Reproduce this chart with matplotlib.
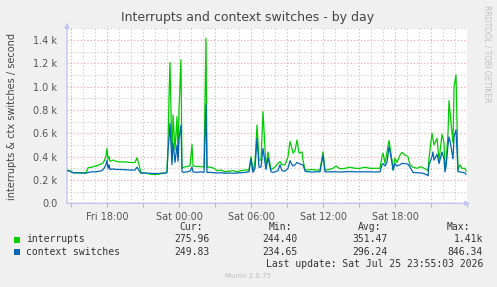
import matplotlib
matplotlib.use("Agg")
import matplotlib.pyplot as plt
import matplotlib.dates as mdates
from matplotlib.ticker import MultipleLocator, FuncFormatter
from matplotlib.patches import Rectangle
import pandas as pd

# ---- data -------------------------------------------------------------
base_time = "2026-07-24 18:00"   # Fri 18:00
minutes = [-200, -185, -170, -135, -105, -95, -75, -55, -40, -25, -15, -5, 0, 5, 10, 15, 30, 45, 65, 90,
           115, 140, 150, 160, 170, 190, 215, 240, 265, 280, 290, 300, 305, 310, 315, 325, 330, 340, 350, 355,
           360, 370, 375, 385, 400, 415, 425, 430, 450, 470, 485, 495, 500, 515, 535, 550, 570, 590, 610, 630,
           650, 670, 690, 710, 720, 730, 740, 750, 760, 770, 780, 795, 805, 820, 830, 840, 855, 865, 875, 890,
           905, 915, 925, 930, 940, 950, 960, 975, 980, 990, 1005, 1025, 1045, 1065, 1080, 1090, 1110, 1130, 1145, 1165,
           1190, 1215, 1240, 1265, 1290, 1315, 1340, 1365, 1375, 1380, 1390, 1400, 1410, 1425, 1430, 1440, 1450, 1465, 1475, 1490,
           1505, 1515, 1530, 1550, 1570, 1585, 1600, 1605, 1610, 1625, 1630, 1635, 1650, 1660, 1675, 1685, 1690, 1695, 1705, 1710,
           1720, 1730, 1735, 1745, 1755, 1765, 1775, 1790, 1795]

interrupts = [285, 280, 262, 262, 262, 305, 310, 320, 330, 340, 360, 400, 470, 380, 400, 360, 370, 360, 355, 355,
              350, 350, 390, 330, 262, 260, 250, 246, 252, 260, 255, 270, 500, 900, 1206, 370, 757, 457, 743, 390,
              800, 1230, 300, 310, 315, 320, 506, 320, 315, 315, 310, 1415, 310, 310, 300, 280, 285, 270, 275, 280,
              270, 280, 285, 285, 400, 280, 350, 670, 370, 370, 786, 310, 440, 286, 300, 310, 343, 357, 330, 330,
              400, 530, 470, 430, 450, 543, 430, 440, 370, 290, 285, 290, 285, 285, 440, 285, 290, 300, 320, 295,
              300, 310, 300, 300, 310, 300, 300, 300, 400, 430, 343, 440, 537, 370, 285, 386, 350, 414, 436, 414,
              400, 330, 310, 300, 314, 300, 286, 280, 386, 600, 550, 500, 557, 370, 590, 520, 300, 340, 600, 880,
              690, 520, 1000, 1100, 286, 330, 300, 300, 276]

context_switches = [280, 275, 262, 260, 258, 265, 270, 270, 275, 280, 300, 330, 370, 300, 330, 290, 295, 290, 290, 288,
                    285, 285, 310, 280, 258, 260, 257, 255, 256, 258, 257, 265, 450, 550, 686, 330, 520, 350, 500, 360,
                    550, 670, 270, 265, 270, 275, 310, 270, 265, 270, 265, 846, 265, 265, 262, 260, 262, 258, 260, 258,
                    260, 262, 265, 270, 380, 265, 300, 557, 310, 310, 470, 290, 390, 270, 265, 270, 280, 330, 280, 275,
                    300, 365, 330, 320, 330, 350, 340, 330, 330, 275, 270, 268, 270, 270, 410, 270, 270, 270, 270, 268,
                    270, 272, 270, 270, 270, 270, 268, 270, 330, 340, 320, 350, 486, 350, 285, 340, 320, 330, 343, 340,
                    335, 310, 265, 262, 260, 255, 243, 235, 330, 400, 440, 370, 420, 340, 440, 380, 270, 310, 500, 570,
                    490, 380, 570, 630, 270, 270, 265, 260, 250]

series_names = ["interrupts", "context switches"]
series_colors = ["#00CC00", "#0066B3"]
stat_headers = ["Cur:", "Min:", "Avg:", "Max:"]
stats = [["275.96", "244.40", "351.47", "1.41k"],
         ["249.83", "234.65", "296.24", "846.34"]]
title = "Interrupts and context switches - by day"
ylabel = "interrupts & ctx switches / second"
last_update = "Last update: Sat Jul 25 23:55:03 2026"

# ---- figure -----------------------------------------------------------
W, H = 497, 287
BG = "#F0F0F0"
fig = plt.figure(figsize=(W / 100, H / 100), dpi=100, facecolor=BG)

def fx(x):
    return x / W

def fy(y):
    return 1 - y / H

ax_l, ax_r, ax_t, ax_b = 67, 467, 28.3, 203.3
ax = fig.add_axes([fx(ax_l), fy(ax_b), (ax_r - ax_l) / W, (ax_b - ax_t) / H])
ax.set_facecolor("white")

t0 = pd.Timestamp(base_time)
times = [t0 + pd.Timedelta(minutes=m) for m in minutes]

ax.plot(times, interrupts, color=series_colors[0], lw=0.9, zorder=3)
ax.plot(times, context_switches, color=series_colors[1], lw=0.9, zorder=4)

x_start = t0 + pd.Timedelta(minutes=-200)
x_end = t0 + pd.Timedelta(minutes=1800)
ax.set_xlim(x_start, x_end)
ax.set_ylim(0, 1500)
label_limit = mdates.date2num(t0 + pd.Timedelta(minutes=1780))

# grid
ax.xaxis.set_major_locator(mdates.HourLocator(byhour=range(0, 24, 3)))
ax.xaxis.set_minor_locator(mdates.HourLocator())

def xfmt(v, pos):
    if v > label_limit:
        return ""
    d = mdates.num2date(v)
    return d.strftime("%a %H:%M") if d.hour % 6 == 0 else ""

ax.xaxis.set_major_formatter(FuncFormatter(xfmt))
ax.yaxis.set_major_locator(MultipleLocator(200))
ax.yaxis.set_minor_locator(MultipleLocator(100))
ax.yaxis.set_major_formatter(FuncFormatter(lambda v, p: "0.0" if v == 0 else f"{v/1000:.1f} k"))

ax.grid(which="major", color="#EFA0A0", linestyle=(0, (1, 2)), lw=0.8, zorder=1)
ax.grid(which="minor", color="#C8C8C8", linestyle=(0, (1, 2)), lw=0.8, zorder=1)
ax.set_axisbelow(True)

for s in ax.spines.values():
    s.set_visible(False)

ax.tick_params(axis="x", which="major", length=3, color="#EFA0A0", labelsize=7,
               labelcolor="#555555", pad=3)
ax.tick_params(axis="x", which="minor", length=0)
ax.tick_params(axis="y", which="both", length=0, labelsize=7, labelcolor="#555555", pad=7)

# axis arrows
axis_col = "#C4C4F0"
ax.annotate("", xy=(ax_l, H - 20), xytext=(ax_l, H - ax_b - 2), xycoords="figure pixels",
            textcoords="figure pixels", annotation_clip=False,
            arrowprops=dict(arrowstyle="-|>", color=axis_col, lw=1, mutation_scale=7))
ax.annotate("", xy=(ax_r + 6, H - ax_b), xytext=(ax_l - 3, H - ax_b), xycoords="figure pixels",
            textcoords="figure pixels", annotation_clip=False,
            arrowprops=dict(arrowstyle="-|>", color=axis_col, lw=1, mutation_scale=7))

# texts
fig.text(fx(248), fy(17.5), title, ha="center", va="center", fontsize=9, color="#444444")
fig.text(fx(11.7), fy(116), ylabel, ha="center", va="center", rotation=90, fontsize=7, color="#444444")
fig.text(fx(487), fy(54), "RRDTOOL / TOBI OETIKER", ha="center", va="center", rotation=270,
         fontsize=5.5, color="#C0C0C0")

mono = "DejaVu Sans Mono"
txt_col = "#333333"
header_right = [203, 292, 381, 470]
value_right = [210, 298, 388, 483]
for hx, h in zip(header_right, stat_headers):
    fig.text(fx(hx), fy(227), h, ha="right", va="center", fontsize=7, family=mono, color=txt_col)

row_y = [239.5, 252]
for i, (name, col) in enumerate(zip(series_names, series_colors)):
    fig.add_artist(Rectangle((fx(14), fy(row_y[i] + 3)), 6 / W, 6 / H, transform=fig.transFigure,
                             facecolor=col, edgecolor="none"))
    fig.text(fx(26.5), fy(row_y[i]), name, ha="left", va="center", fontsize=7, family=mono, color=txt_col)
    for vx, v in zip(value_right, stats[i]):
        fig.text(fx(vx), fy(row_y[i]), v, ha="right", va="center", fontsize=7, family=mono, color=txt_col)

fig.text(fx(483), fy(264), last_update, ha="right", va="center", fontsize=7, family=mono, color=txt_col)
fig.text(fx(248), fy(276), "Munin 2.0.75", ha="center", va="center", fontsize=5, color="#BBBBBB")

fig.savefig("out.png", dpi=100, facecolor=BG)
